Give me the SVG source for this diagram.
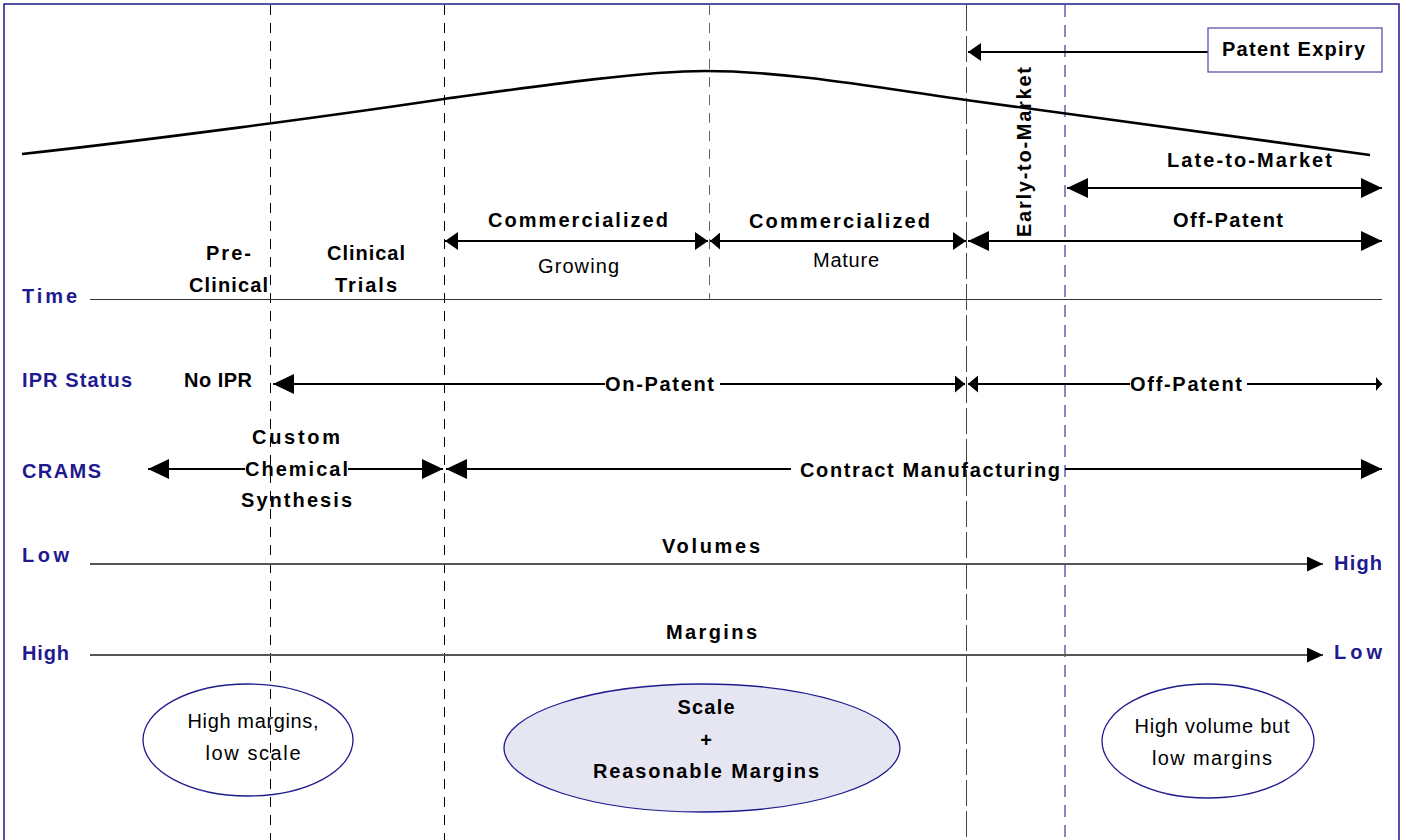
<svg xmlns="http://www.w3.org/2000/svg" width="1406" height="840" viewBox="0 0 1406 840">
<style>
text{font-family:"Liberation Sans",Arial,sans-serif;font-size:20px;fill:#000}
.b{font-weight:bold}
.n{font-weight:bold;fill:#1f1a8f}
.m{text-anchor:middle}
.ar{stroke:#000;stroke-width:2;fill:none}
.ax{stroke:#555;stroke-width:2;fill:none}
.g1{stroke:#000;stroke-width:1;stroke-dasharray:10 8}
.g2{stroke:#666;stroke-width:1;stroke-dasharray:10 8}
.g3{stroke:#444;stroke-width:1;stroke-dasharray:26 5}
.g4{stroke:#8a86c4;stroke-width:2;stroke-dasharray:12 8}
.el{stroke:#1f1a8f;stroke-width:1.3;fill:none}
</style>
<defs>
<marker id="aL" markerUnits="userSpaceOnUse" markerWidth="21" markerHeight="20" refX="21" refY="10" orient="auto-start-reverse" viewBox="0 0 21 20"><path d="M0,0 L21,10 L0,20 z" fill="#000"/></marker>
<marker id="aM" markerUnits="userSpaceOnUse" markerWidth="13" markerHeight="18" refX="13" refY="9" orient="auto-start-reverse" viewBox="0 0 13 18"><path d="M0,0 L13,9 L0,18 z" fill="#000"/></marker>
<marker id="aS" markerUnits="userSpaceOnUse" markerWidth="10" markerHeight="17" refX="10" refY="8.5" orient="auto-start-reverse" viewBox="0 0 10 17"><path d="M0,0 L10,8.5 L0,17 z" fill="#000"/></marker>
<marker id="aV" markerUnits="userSpaceOnUse" markerWidth="16" markerHeight="15" refX="16" refY="7.5" orient="auto-start-reverse" viewBox="0 0 16 15"><path d="M0,0 L16,7.5 L0,15 z" fill="#000"/></marker>
<marker id="aT" markerUnits="userSpaceOnUse" markerWidth="6" markerHeight="14" refX="6" refY="7" orient="auto-start-reverse" viewBox="0 0 6 14"><path d="M0,0 L6,7 L0,14 z" fill="#000"/></marker>
</defs>
<rect x="0" y="0" width="1406" height="840" fill="#fff"/>
<rect x="4" y="4" width="1395" height="860" fill="none" stroke="#1f1a8f" stroke-width="1.5"/>

<g id="ellipse-left">
<ellipse class="el" cx="248" cy="740" rx="105" ry="56" fill="#fff"/>
<text class="m" x="253" y="728" textLength="131">High margins,</text>
<text class="m" x="253" y="760" textLength="95">low scale</text>
</g>
<g id="ellipse-middle">
<ellipse class="el" cx="702" cy="748" rx="198" ry="64" style="fill:#e6e6f2"/>
<text class="b m" x="706" y="714" textLength="57">Scale</text>
<text class="b m" x="706" y="747">+</text>
<text class="b m" x="706" y="778" textLength="226">Reasonable Margins</text>
</g>
<g id="ellipse-right">
<ellipse class="el" cx="1208" cy="741" rx="106" ry="57" fill="#fff"/>
<text class="m" x="1212" y="733" textLength="155">High volume but</text>
<text class="m" x="1212" y="765" textLength="120">low margins</text>
</g>

<g id="guides">
<line class="g1" x1="270.5" y1="5" x2="270.5" y2="840"/>
<line class="g1" x1="444.5" y1="5" x2="444.5" y2="840"/>
<line class="g2" x1="709.5" y1="5" x2="709.5" y2="299"/>
<line class="g3" x1="966.5" y1="5" x2="966.5" y2="840"/>
<line class="g4" x1="1065" y1="5" x2="1065" y2="840"/>
</g>

<g id="lifecycle-curve">
<path d="M22,154 C150,140 330,116 444,99 C524,88 640,71 705,71 C790,71 886,89 966,100 L1370,155" stroke="#000" stroke-width="2.6" fill="none"/>
</g>

<g id="connectors">
<line class="ar" x1="1208" y1="52" x2="968" y2="52" marker-end="url(#aM)"/>
<line class="ar" x1="1067" y1="188" x2="1382" y2="188" marker-start="url(#aL)" marker-end="url(#aL)"/>
<line class="ar" x1="968" y1="241" x2="1382" y2="241" marker-start="url(#aL)" marker-end="url(#aL)"/>
<line class="ar" x1="445" y1="241" x2="708" y2="241" marker-start="url(#aM)" marker-end="url(#aM)"/>
<line class="ar" x1="710" y1="241" x2="966" y2="241" marker-start="url(#aS)" marker-end="url(#aM)"/>
<line x1="90" y1="299.5" x2="1382" y2="299.5" stroke="#333" stroke-width="1"/>
<line class="ar" x1="273" y1="384" x2="605" y2="384" marker-start="url(#aL)"/>
<line class="ar" x1="720" y1="384" x2="965" y2="384" marker-end="url(#aS)"/>
<line class="ar" x1="968" y1="384" x2="1130" y2="384" marker-start="url(#aS)"/>
<line class="ar" x1="1247" y1="384" x2="1382" y2="384" marker-end="url(#aT)"/>
<line class="ar" x1="148" y1="469" x2="245" y2="469" marker-start="url(#aL)"/>
<line class="ar" x1="348" y1="469" x2="443" y2="469" marker-end="url(#aL)"/>
<line class="ar" x1="446" y1="469" x2="791" y2="469" marker-start="url(#aL)"/>
<line class="ar" x1="1065" y1="469" x2="1382" y2="469" marker-end="url(#aL)"/>
<line class="ax" x1="90" y1="564" x2="1323" y2="564" marker-end="url(#aV)"/>
<line class="ax" x1="90" y1="655" x2="1323" y2="655" marker-end="url(#aV)"/>
</g>

<g id="patent-expiry">
<rect x="1208" y="28" width="174" height="44" fill="#fff" stroke="#5b55a8" stroke-width="1.3"/>
<text class="b m" x="1293.5" y="56" textLength="143">Patent Expiry</text>
</g>
<g id="phase-preclinical">
<text class="b m" x="228.5" y="260" textLength="45">Pre-</text>
<text class="b m" x="228.5" y="292" textLength="79">Clinical</text>
</g>
<g id="phase-clinical-trials">
<text class="b m" x="366" y="260" textLength="78">Clinical</text>
<text class="b m" x="366" y="292" textLength="62">Trials</text>
</g>
<g id="phase-growing">
<text class="b m" x="578" y="227" textLength="180">Commercialized</text>
<text class="m" x="578.5" y="273" textLength="81">Growing</text>
</g>
<g id="phase-mature">
<text class="b m" x="839.5" y="228" textLength="181">Commercialized</text>
<text class="m" x="846" y="267" textLength="66">Mature</text>
</g>
<g id="phase-early">
<text class="b m" transform="translate(1031,152) rotate(-90)" x="0" y="0" textLength="170">Early-to-Market</text>
</g>
<g id="phase-late">
<text class="b m" x="1249.5" y="167" textLength="165">Late-to-Market</text>
</g>
<g id="phase-offpatent">
<text class="b m" x="1228" y="227" textLength="110">Off-Patent</text>
</g>

<g id="row-time">
<text class="n" x="22" y="303" textLength="55">Time</text>
</g>
<g id="row-ipr">
<text class="n" x="22" y="387" textLength="110">IPR Status</text>
<text class="b" x="184" y="387" textLength="68">No IPR</text>
<text class="b m" x="659.5" y="391" textLength="109">On-Patent</text>
<text class="b m" x="1186" y="391" textLength="112">Off-Patent</text>
</g>
<g id="row-crams">
<text class="n" x="22" y="478" textLength="79">CRAMS</text>
<text class="b m" x="296" y="444" textLength="88">Custom</text>
<text class="b m" x="296.5" y="476" textLength="103">Chemical</text>
<text class="b m" x="296.5" y="507" textLength="111">Synthesis</text>
<text class="b m" x="930" y="477" textLength="260">Contract Manufacturing</text>
</g>
<g id="row-volumes">
<text class="n" x="22" y="562" textLength="47">Low</text>
<text class="b m" x="711" y="553" textLength="98">Volumes</text>
<text class="n" x="1334" y="570" textLength="48">High</text>
</g>
<g id="row-margins">
<text class="n" x="22" y="660" textLength="47">High</text>
<text class="b m" x="711.5" y="639" textLength="91">Margins</text>
<text class="n" x="1334" y="659" textLength="48">Low</text>
</g>
</svg>
